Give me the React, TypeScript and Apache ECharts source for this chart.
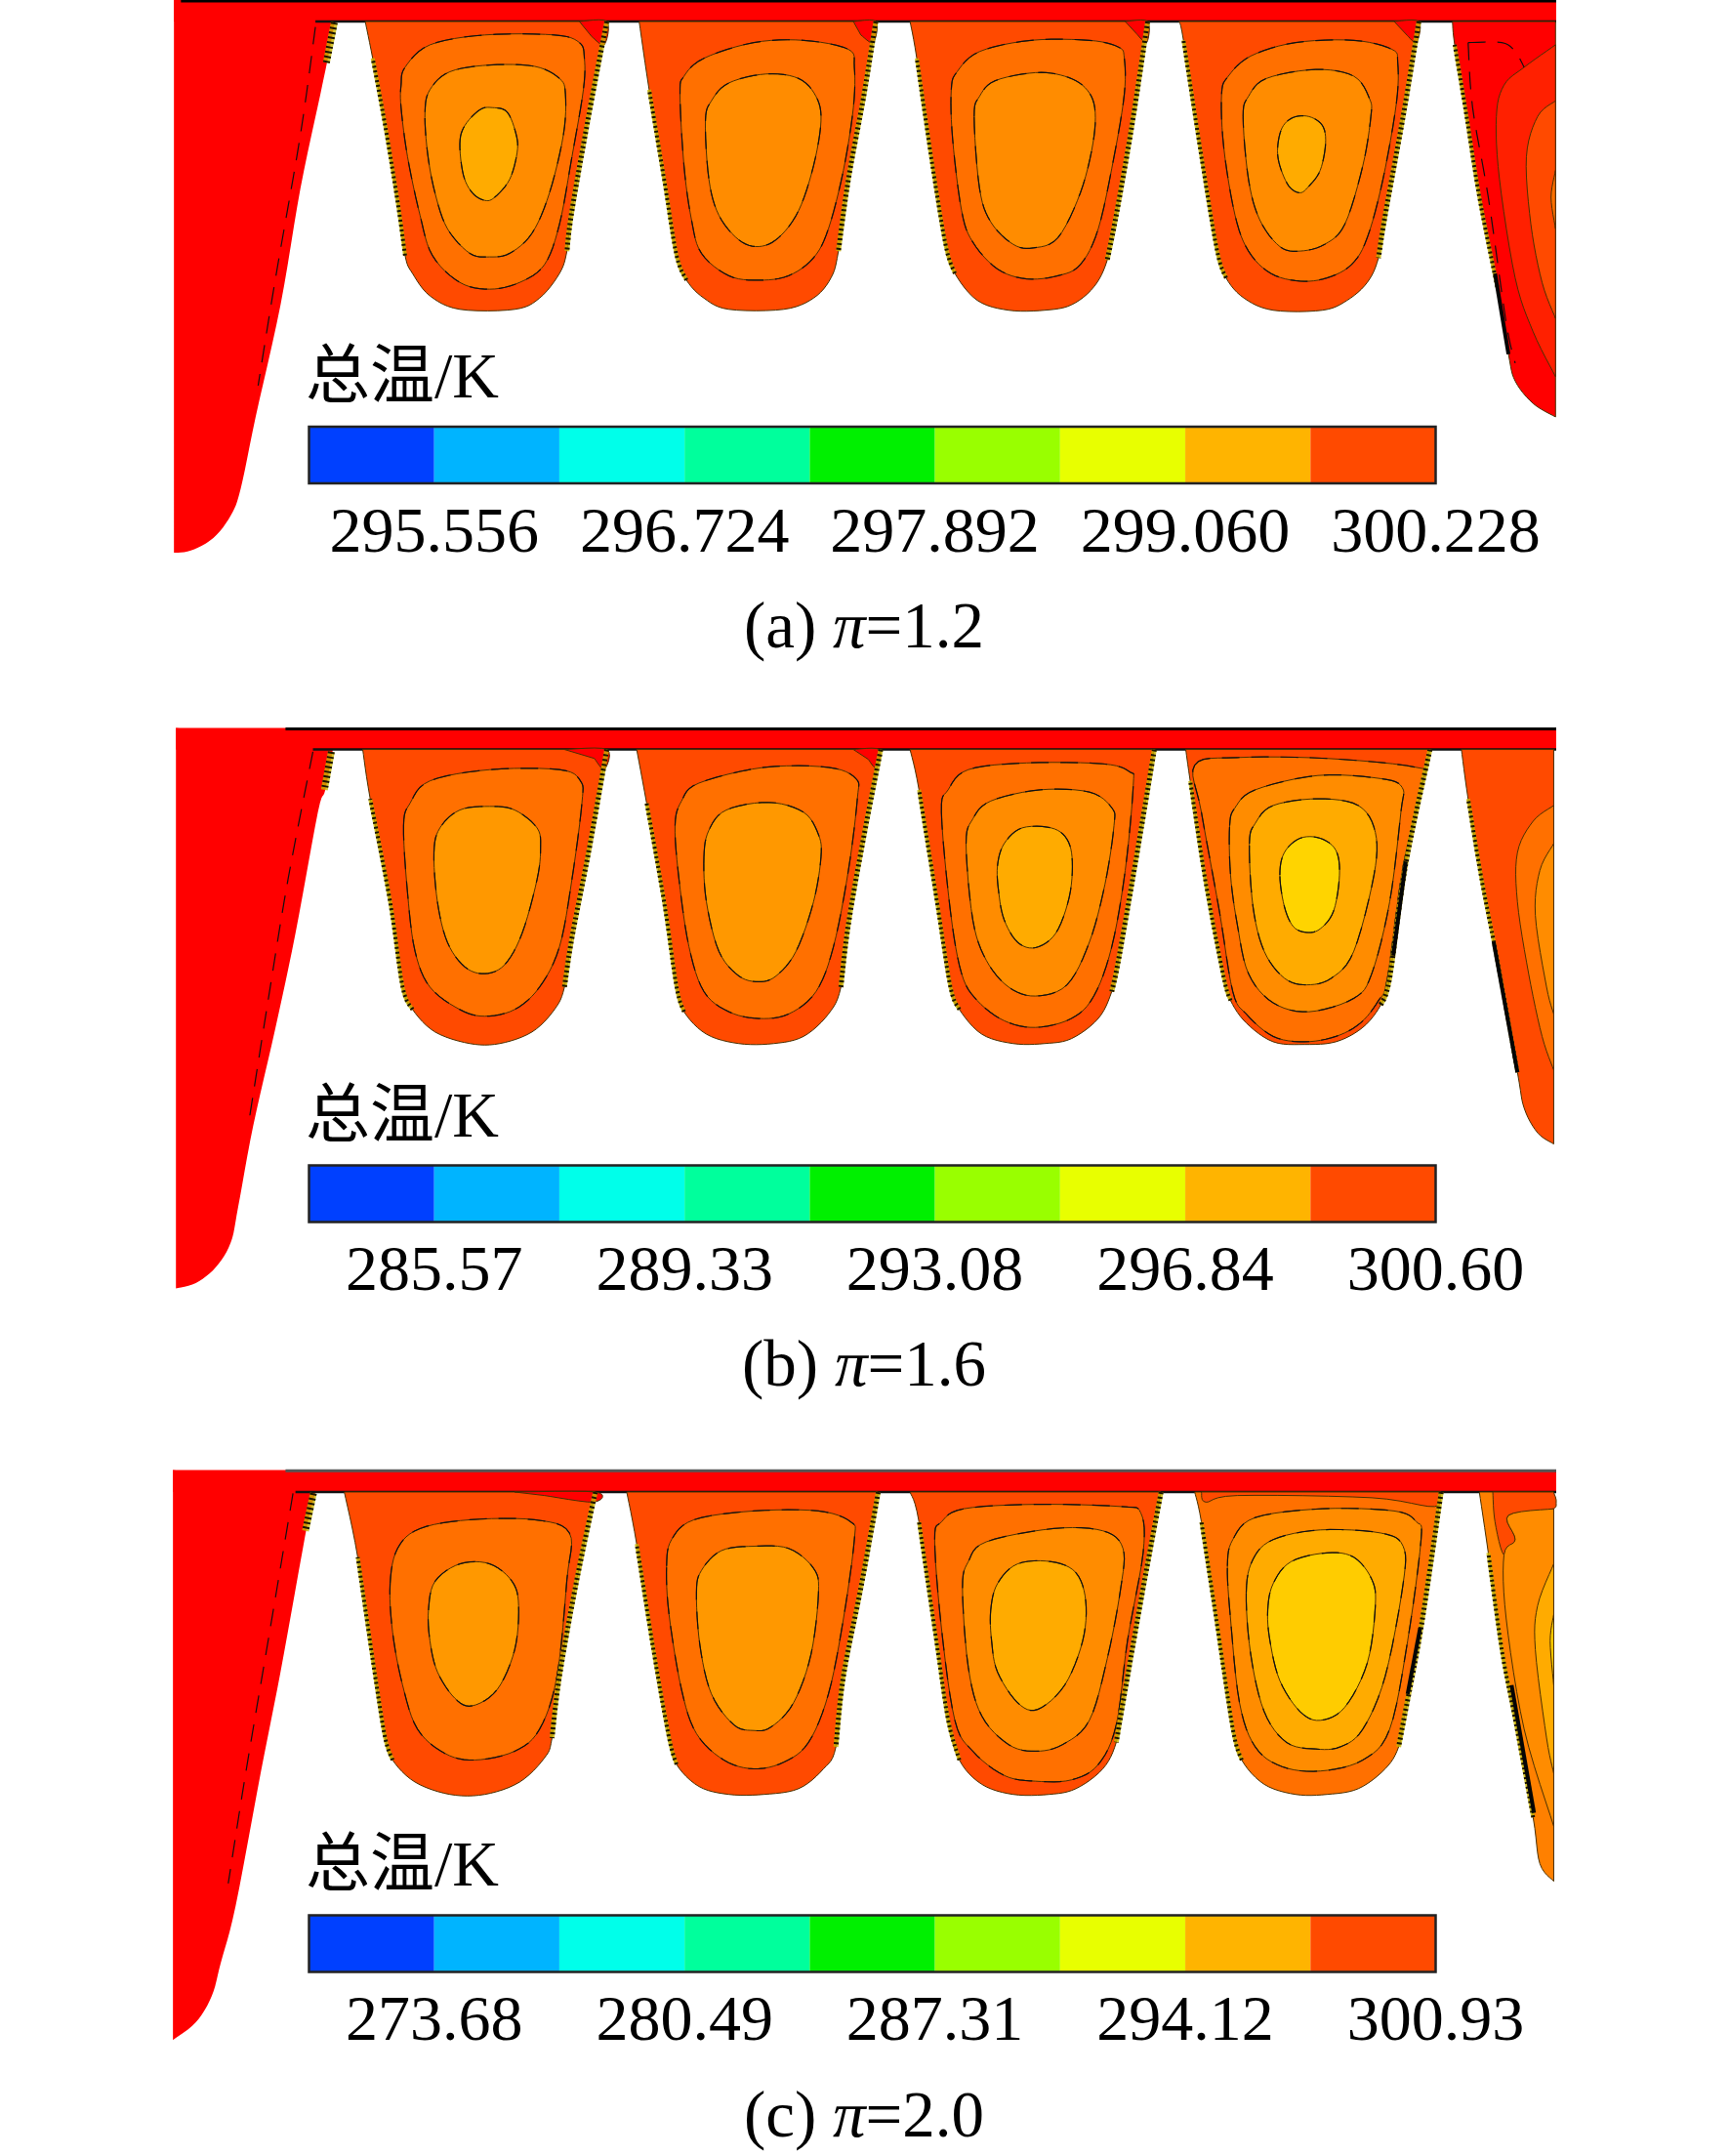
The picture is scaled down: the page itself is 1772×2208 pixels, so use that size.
import React, { useEffect, useRef } from "react";
import * as echarts from "echarts";

type P = number[];
type Fill = [string, P[], number?];
type Channel = { f: "L" | "R"; r: number; l: number; outer: string; pts: P[]; fills: Fill[]; lines?: P[][]; thick?: P[][] };

const RED = "#ff0000", C1 = "#ff4a00", C2 = "#ff7000", C3 = "#ff8c00", C3B = "#ff9800", C4 = "#ffab00", C5 = "#ffcc00", C6 = "#ffd400";

const colorbarColors = ["#0040ff", "#00b4ff", "#00ffea", "#00ff9c", "#00f000", "#99ff00", "#e8ff00", "#ffb400", "#ff4a00"];
const labelsA = ["295.556", "296.724", "297.892", "299.060", "300.228"];
const labelsB = ["285.57", "289.33", "293.08", "296.84", "300.60"];
const labelsC = ["273.68", "280.49", "287.31", "294.12", "300.93"];

// ---- contour outlines (panel a) ----
const wedgeA: P[] = [[340,45],[325,130],[310,210],[270,420],[230,680],[180,930],[150,1090],[130,1150],[95,1200],[50,1228],[16,1233]];
const wedgeLineA: P[] = [[300,60],[270,300],[220,620],[185,860]];
const wedgeHatchA: P[] = [[338,50],[322,140]];
const a1: Channel = { f:"L", r:4, l:4, outer:C1, pts:[[400,48],[885,48],[850,250],[815,470],[805,560],[790,610],[750,665],[700,690],[590,690],[530,660],[495,610],[480,570],[465,450],[440,280],[415,130]], fills:[
  [RED,[[830,48],[885,48],[880,100],[855,82]],1],
  [C2,[[472,190],[480,150],[530,100],[640,78],[780,78],[830,95],[840,130],[838,200],[815,350],[790,500],[760,590],[710,630],[650,645],[590,630],[535,570],[510,480],[485,350],[472,240]]],
  [C3,[[520,250],[530,200],[570,160],[650,145],[740,148],[790,175],[802,210],[798,300],[770,430],[735,520],[690,565],[650,573],[610,565],[565,510],[540,430],[525,340]]],
  [C4,[[590,320],[600,280],[630,245],[655,240],[685,250],[703,300],[705,340],[690,400],[660,440],[640,447],[615,430],[597,390]]],
]};
const a2: Channel = { f:"L", r:4, l:4, outer:C1, pts:[[950,48],[1425,48],[1400,220],[1370,400],[1350,560],[1335,620],[1300,665],[1240,690],[1130,690],[1080,665],[1045,625],[1025,570],[1000,400],[970,200]], fills:[
  [RED,[[1380,48],[1425,48],[1420,95],[1395,78]],1],
  [C2,[[1032,210],[1040,170],[1080,130],[1180,95],[1280,90],[1370,110],[1382,150],[1380,240],[1360,380],[1330,510],[1300,575],[1250,615],[1190,625],[1130,615],[1075,565],[1055,490],[1040,370]]],
  [C3,[[1083,270],[1095,225],[1130,185],[1205,165],[1270,175],[1305,215],[1315,270],[1300,370],[1270,470],[1230,530],[1190,550],[1150,535],[1110,480],[1090,400]]],
]};
const a3: Channel = { f:"R", r:4, l:4, outer:C1, pts:[[70,48],[600,48],[565,280],[530,480],[510,580],[480,640],[430,680],[370,692],[290,692],[220,670],[170,610],[150,550],[120,370],[85,130]], fills:[
  [RED,[[550,48],[600,48],[598,95],[575,75]],1],
  [C2,[[162,200],[175,160],[225,115],[340,90],[470,90],[535,105],[548,130],[548,210],[525,350],[490,510],[450,590],[400,615],[330,622],[265,600],[210,540],[185,470],[165,310]]],
  [C3,[[213,260],[225,215],[260,180],[350,162],[415,170],[460,195],[482,240],[478,320],[450,430],[400,530],[345,553],[300,545],[250,495],[225,420]]],
]};
const a4: Channel = { f:"R", r:4, l:4, outer:C1, pts:[[670,48],[1205,48],[1170,260],[1130,480],[1115,575],[1090,630],[1045,670],[990,692],[880,692],[815,665],[775,620],[755,560],[720,350],[680,90]], fills:[
  [RED,[[1150,48],[1205,48],[1200,95],[1180,80]],1],
  [C2,[[765,210],[780,170],[830,125],[930,95],[1060,90],[1145,110],[1158,140],[1155,230],[1125,400],[1090,530],[1055,590],[1000,620],[940,627],[875,610],[825,560],[795,480],[770,330]]],
  [C3,[[813,260],[825,215],[865,175],[975,155],[1060,170],[1095,220],[1098,260],[1080,370],[1040,500],[995,545],[940,560],[895,550],[850,490],[825,400]]],
  [C4,[[890,330],[900,285],[925,262],[960,260],[990,280],[997,320],[985,380],[960,415],[940,430],[915,415],[895,370]]],
]};
const a5: Channel = { f:"R", r:0, l:4, outer:RED, pts:[[1280,48],[1510,48],[1510,930],[1460,900],[1420,850],[1405,790],[1380,640],[1340,440],[1310,250],[1285,100]], fills:[
  ["#ff2000",[[1510,100],[1440,150],[1395,190],[1378,260],[1385,400],[1420,620],[1460,740],[1510,840]],1],
  [C1,[[1510,225],[1470,260],[1445,350],[1455,500],[1480,630],[1510,710]],1],
  [C2,[[1510,380],[1500,440],[1510,510]],1],
], lines:[[[1315,95],[1390,95],[1420,115],[1440,150]],[[1315,95],[1325,240],[1360,440],[1400,720],[1420,810]]], thick:[[[1375,610],[1405,790]]]};

// ---- panel b ----
const wedgeB: P[] = [[335,60],[320,150],[305,200],[260,470],[220,680],[175,900],[145,1080],[130,1160],[100,1215],[60,1250],[20,1262]];
const wedgeLineB: P[] = [[295,65],[245,350],[205,620],[165,900]];
const wedgeHatchB: P[] = [[332,65],[318,150]];
const b1: Channel = { f:"L", r:4, l:4, outer:C1, pts:[[395,60],[885,60],[850,280],[815,480],[800,590],[780,640],[735,690],[670,716],[610,716],[540,690],[495,640],[475,590],[450,400],[410,170]], fills:[
  [RED,[[800,60],[885,60],[880,105],[860,80]],1],
  [C2,[[477,230],[490,180],[530,130],[650,105],[790,105],[832,130],[835,180],[815,350],[790,500],[750,590],[700,640],[640,655],[590,640],[530,590],[500,510],[485,380]]],
  [C3B,[[538,290],[550,235],[590,195],[650,187],[700,195],[745,235],[752,280],[745,350],[715,470],[680,540],[640,560],[600,545],[565,490],[545,400]]],
]};
const b2: Channel = { f:"L", r:4, l:4, outer:C1, pts:[[945,60],[1435,60],[1400,260],[1370,450],[1355,590],[1330,650],[1280,700],[1220,716],[1150,716],[1085,695],[1040,645],[1025,590],[1000,400],[965,180]], fills:[
  [RED,[[1380,60],[1432,60],[1425,100],[1410,82]],1],
  [C2,[[1022,230],[1035,175],[1070,135],[1200,100],[1330,100],[1385,125],[1388,170],[1370,330],[1340,500],[1305,600],[1250,650],[1190,660],[1130,645],[1080,600],[1050,500],[1030,350]]],
  [C3B,[[1080,300],[1090,240],[1125,195],[1210,178],[1280,200],[1310,250],[1315,300],[1300,400],[1265,510],[1225,565],[1190,578],[1150,565],[1110,510],[1085,400]]],
]};
const b3: Channel = { f:"R", r:4, l:4, outer:C1, pts:[[70,60],[615,60],[575,300],[535,530],[520,600],[490,660],[430,705],[370,716],[300,716],[230,695],[180,640],[160,590],[130,400],[90,150]], fills:[
  [C2,[[140,200],[155,150],[200,105],[330,90],[500,92],[560,110],[568,140],[550,330],[520,500],[480,610],[430,660],[350,680],[280,665],[220,620],[185,560],[160,420]]],
  [C3,[[195,270],[210,215],[250,175],[360,150],[470,155],[520,190],[525,230],[505,360],[470,490],[420,585],[350,610],[290,590],[240,530],[210,440]]],
  [C4,[[265,320],[280,270],[320,235],[385,235],[420,260],[432,310],[425,390],[395,470],[350,502],[310,490],[280,440],[268,380]]],
]};
const b4: Channel = { f:"R", r:4, l:4, outer:C1, pts:[[685,60],[1230,60],[1175,320],[1140,570],[1120,630],[1080,680],[1020,712],[950,718],[880,712],[820,670],[785,620],[770,570],[730,360],[695,130]], fills:[
  [C2,[[705,95],[800,78],[1000,80],[1200,100],[1215,130],[1170,320],[1135,570],[1115,620],[1075,670],[1020,700],[950,712],[880,700],[820,650],[790,600],[760,420],[720,200]]],
  [C3,[[783,230],[795,190],[840,150],[980,118],[1120,125],[1168,145],[1165,200],[1140,400],[1100,560],[1060,615],[960,645],[880,625],[825,560],[800,450],[785,340]]],
  [C4,[[827,270],[840,225],[880,185],[980,170],[1070,185],[1108,245],[1105,340],[1060,510],[1010,570],[955,585],[905,570],[860,510],[835,410]]],
  [C6,[[895,340],[905,290],[940,258],[985,258],[1020,285],[1028,340],[1015,420],[985,460],[955,468],[925,455],[905,410]]],
], thick:[[[1176,310],[1148,520]]]};
const b5: Channel = { f:"R", r:0, l:4, outer:C1, pts:[[1300,60],[1506,60],[1506,940],[1470,915],[1440,860],[1425,780],[1380,530],[1345,350],[1315,170]], fills:[
  [C2,[[1506,185],[1460,220],[1425,290],[1425,400],[1450,560],[1480,700],[1506,775]],1],
  [C3,[[1506,270],[1475,330],[1465,430],[1490,590],[1506,650]],1],
], thick:[[[1372,490],[1425,780]]]};

// ---- panel c ----
const wedgeC: P[] = [[300,62],[285,130],[270,220],[230,470],[190,700],[140,1000],[110,1130],[92,1205],[60,1265],[14,1305]];
const wedgeLineC: P[] = [[255,65],[205,400],[160,700],[125,950]];
const wedgeHatchC: P[] = [[296,65],[280,150]];
const c1: Channel = { f:"L", r:4, l:4, outer:C1, pts:[[358,62],[862,62],[825,260],[790,480],[775,620],[760,665],[710,720],[640,748],[570,748],[500,720],[455,670],[440,620],[420,480],[385,210]], fills:[
  [RED,[[700,62],[862,62],[858,85],[760,70]],1],
  [C2,[[450,270],[465,190],[510,145],[610,125],[740,125],[810,155],[805,260],[785,480],[750,600],[700,650],[620,670],[560,655],[505,600],[475,500],[455,380]]],
  [C3B,[[527,330],[540,265],[590,225],[650,225],[695,265],[708,320],[700,420],[665,510],[615,547],[580,530],[545,470],[530,400]]],
]};
const c2: Channel = { f:"L", r:4, l:4, outer:C1, pts:[[925,62],[1430,62],[1395,280],[1360,480],[1345,640],[1320,690],[1270,735],[1200,748],[1130,748],[1070,730],[1025,680],[1010,620],[980,430],[945,180]], fills:[
  [C2,[[1005,230],[1015,170],[1060,125],[1180,105],[1310,105],[1375,130],[1382,170],[1360,350],[1330,520],[1290,630],[1240,675],[1180,690],[1120,670],[1065,610],[1035,510],[1010,340]]],
  [C3B,[[1065,290],[1075,240],[1115,195],[1180,185],[1250,190],[1300,235],[1310,290],[1295,430],[1260,540],[1215,595],[1180,603],[1140,590],[1095,520],[1072,410]]],
]};
const c3: Channel = { f:"R", r:4, l:4, outer:C1, pts:[[70,62],[630,62],[590,280],[545,540],[530,630],[500,690],[440,735],[380,748],[300,748],[230,725],[180,670],[155,580],[130,410],[90,130]], fills:[
  [C2,[[125,170],[140,130],[190,100],[350,90],[540,95],[585,110],[590,200],[555,400],[530,590],[490,680],[430,715],[350,718],[280,705],[210,650],[170,580],[140,370]]],
  [C3,[[187,280],[200,220],[240,175],[390,145],[500,150],[545,190],[540,280],[510,440],[470,580],[410,635],[350,650],[290,635],[230,570],[200,460]]],
  [C4,[[250,330],[265,270],[310,225],[385,220],[440,245],[462,310],[455,400],[415,500],[355,555],[310,540],[265,470],[252,400]]],
]};
const c4: Channel = { f:"R", r:4, l:4, outer:C2, pts:[[705,62],[1255,62],[1210,370],[1175,560],[1160,640],[1130,690],[1070,735],[1000,748],[930,748],[860,725],[810,670],[790,600],[750,330],[720,130]], fills:[
  [C1,[[1250,62],[1240,95],[1100,75],[800,70],[730,85],[720,62]],1],
  [C3,[[778,230],[790,170],[840,120],[990,100],[1150,105],[1200,130],[1210,170],[1180,400],[1140,600],[1080,670],[985,695],[900,685],[840,640],[805,540],[785,350]]],
  [C4,[[820,290],[835,215],[880,170],[985,148],[1120,155],[1170,185],[1170,270],[1130,480],[1080,600],[1030,640],[975,645],[910,630],[860,560],[830,430]]],
  [C5,[[868,330],[880,270],[920,220],[1000,200],[1060,210],[1100,260],[1108,320],[1090,450],[1040,550],[985,580],[940,560],[895,490],[873,400]]],
], thick:[[[1208,370],[1180,520]]]};
const c5: Channel = { f:"R", r:0, l:4, outer:"#ff8000", pts:[[1340,62],[1506,62],[1506,945],[1475,905],[1460,800],[1420,580],[1390,420],[1360,200]], fills:[
  [C1,[[1506,62],[1506,100],[1405,115],[1420,170],[1395,205],[1375,130],[1370,62]],1],
  [C3,[[1506,100],[1405,115],[1420,170],[1395,205],[1400,350],[1440,600],[1506,820]],1],
  [C4,[[1506,225],[1470,320],[1465,420],[1490,620],[1506,700]],1],
  [C5,[[1506,340],[1498,400],[1506,500]],1],
], thick:[[[1412,500],[1462,790]]]};

const PAGE_W = 1772, PAGE_H = 2208, CLIP_X = 1594;
const LINE = "#4a3000";

function curve(pts: P[], closed: boolean): P[] {
  const n = pts.length, out: P[] = [];
  if (n < 3) return pts;
  const at = (i: number) => (closed ? pts[(i + n) % n] : pts[Math.max(0, Math.min(n - 1, i))]);
  const segs = closed ? n : n - 1;
  for (let i = 0; i < segs; i++) {
    const [p0, p1, p2, p3] = [at(i - 1), at(i), at(i + 1), at(i + 2)];
    for (let k = 0; k < 6; k++) {
      const t = k / 6, t2 = t * t, t3 = t2 * t;
      out.push([0, 1].map((d) => 0.5 * (2 * p1[d] + (p2[d] - p0[d]) * t + (2 * p0[d] - 5 * p1[d] + 4 * p2[d] - p3[d]) * t2 + (3 * p1[d] - p0[d] - 3 * p2[d] + p3[d]) * t3)));
    }
  }
  if (!closed) out.push(pts[n - 1]);
  return out;
}

type Mark = { kind: "fill" | "flat" | "line" | "hatch" | "dash"; pts: P[]; color?: string; width?: number };
const marks: Mark[] = [];

function px(f: "L" | "R", y0: number, sy: number) {
  return (p: P): P => [Math.min(CLIP_X, f === "L" ? 170 + p[0] / 1.96 : 900 + p[0] / 2.178), y0 + p[1] / sy];
}

function addPanel(y0: number, sy: number, topY: number, bandY: number, lineStart: number, topColor: string, wedge: P[], wLine: P[], wHatch: P[], chans: Channel[]) {
  const L = px("L", y0, sy);
  const x0 = wedge[wedge.length - 1][0];
  marks.push({ kind: "flat", pts: [...curve(wedge, false), [x0, topY]].map(L), color: RED });
  marks.push({ kind: "flat", pts: [[x0, topY], [2900, topY], [2900, bandY], [x0, bandY]].map(L), color: RED });
  marks.push({ kind: "line", pts: [[lineStart, topY + 2], [2900, topY + 2]].map(L), color: topColor, width: 3 });
  marks.push({ kind: "line", pts: [[wedge[0][0] - 40, bandY], [2900, bandY]].map(L), color: "#111", width: 2.5 });
  marks.push({ kind: "dash", pts: curve(wLine, false).map(L) });
  marks.push({ kind: "hatch", pts: wHatch.map(L), width: 7 });
  chans.forEach((c) => {
    const T = px(c.f, y0, sy);
    const outerPts = c.r === 0
      ? [...curve([c.pts[2], ...c.pts.slice(3), c.pts[0]], false), c.pts[1]]
      : curve([...c.pts.slice(1), c.pts[0]], false);
    marks.push({ kind: "fill", pts: outerPts.map(T), color: c.outer });
    c.fills.forEach(([col, pts, open]) => {
      const shape = curve(pts, !open).map(T);
      marks.push({ kind: "fill", pts: shape, color: col });
      if (!open) marks.push({ kind: "dash", pts: [...shape, shape[0]] });
    });
    (c.lines || []).forEach((ln) => marks.push({ kind: "dash", pts: curve(ln, false).map(T) }));
    if (c.r > 0) marks.push({ kind: "hatch", pts: curve(c.pts.slice(1, 1 + c.r), false).map(T), width: 5 });
    marks.push({ kind: "hatch", pts: curve([...c.pts.slice(-c.l), c.pts[0]].slice(0, c.l), false).map(T), width: 4 });
    (c.thick || []).forEach((ln) => marks.push({ kind: "line", pts: ln.map(T), color: "#050505", width: 4 }));
  });
}

addPanel(0, 2.178, 0, 48, 30, "#000", wedgeA, wedgeLineA, wedgeHatchA, [a1, a2, a3, a4, a5]);
addPanel(740, 2.178, 12, 60, 240, "#000", wedgeB, wedgeLineB, wedgeHatchB, [b1, b2, b3, b4, b5]);
addPanel(1500, 2.215, 12, 62, 240, "#555", wedgeC, wedgeLineC, wedgeHatchC, [c1, c2, c3, c4, c5]);

const barLeft = 316.5, barWidth = 1154, barHeight = 58;
const barTops = [437, 1193.5, 1961.5];
const labelSets = [labelsA, labelsB, labelsC];
const titleY = [384, 1141, 1908];
const captionY = [640, 1396, 2165];
const captions = ["(a) {i|π}=1.2", "(b) {i|π}=1.6", "(c) {i|π}=2.0"];

export default function App() {
  const ref = useRef<HTMLDivElement>(null);
  useEffect(() => {
    const chart = echarts.init(ref.current!, null, { renderer: "svg" });
    const pageSeries: any = {
      type: "custom", xAxisIndex: 0, yAxisIndex: 0, clip: false, silent: true,
      data: marks.map((_, i) => [i, i]),
      renderItem: (params: any, api: any) => {
        const m = marks[params.dataIndex];
        const points = m.pts.map((p) => api.coord(p));
        if (m.kind === "flat") return { type: "polygon", shape: { points }, style: { fill: m.color, stroke: "none" } };
        if (m.kind === "fill") return { type: "polygon", shape: { points }, style: { fill: m.color, stroke: LINE, lineWidth: 1 } };
        if (m.kind === "line") return { type: "polyline", shape: { points }, style: { stroke: m.color, lineWidth: m.width, fill: "none" } };
        if (m.kind === "dash") return { type: "polyline", shape: { points }, style: { stroke: "#111", lineWidth: 1.2, lineDash: [18, 12], fill: "none" } };
        return {
          type: "group",
          children: [
            { type: "polyline", shape: { points }, style: { stroke: "#c8b400", lineWidth: m.width, fill: "none", opacity: 0.8 } },
            { type: "polyline", shape: { points }, style: { stroke: "#1a1200", lineWidth: m.width, lineDash: [2, 3], fill: "none" } },
          ],
        };
      },
    };
    const grids: any[] = [{ left: 0, top: 0, width: PAGE_W, height: PAGE_H, outerBoundsMode: "none" }];
    const xAxes: any[] = [{ type: "value", gridIndex: 0, min: 0, max: PAGE_W, show: false }];
    const yAxes: any[] = [{ type: "value", gridIndex: 0, min: 0, max: PAGE_H, inverse: true, show: false }];
    const series: any[] = [pageSeries];
    barTops.forEach((top, k) => {
      const g = k + 1;
      const labels = labelSets[k];
      grids.push({ left: barLeft, top, width: barWidth, height: barHeight, outerBoundsMode: "none" });
      xAxes.push({
        type: "value", gridIndex: g, min: 0, max: 9, interval: 1,
        axisLine: { show: false }, axisTick: { show: false }, splitLine: { show: false },
        axisLabel: {
          show: true, margin: 14, color: "#000", fontFamily: "Liberation Serif", fontSize: 66,
          showMinLabel: true, showMaxLabel: true, hideOverlap: false,
          formatter: (v: number) => (v % 2 === 1 ? labels[(v - 1) / 2] : ""),
        },
      });
      yAxes.push({ type: "value", gridIndex: g, min: 0, max: 1, show: false });
      series.push({
        type: "custom", xAxisIndex: g, yAxisIndex: g, silent: true, clip: false,
        data: colorbarColors.map((_, i) => [i, i + 1]),
        renderItem: (params: any, api: any) => {
          const a = api.coord([api.value(0), 1]);
          const b = api.coord([api.value(1), 0]);
          return { type: "rect", shape: { x: a[0], y: a[1], width: b[0] - a[0], height: b[1] - a[1] }, style: { fill: colorbarColors[params.dataIndex] } };
        },
      });
      series.push({
        type: "custom", xAxisIndex: g, yAxisIndex: g, silent: true, clip: false,
        data: [[0, 9]],
        renderItem: (_: any, api: any) => {
          const a = api.coord([0, 1]);
          const b = api.coord([9, 0]);
          return { type: "rect", shape: { x: a[0], y: a[1], width: b[0] - a[0], height: b[1] - a[1] }, style: { fill: "none", stroke: "#222", lineWidth: 2.5 } };
        },
      });
    });
    const serif = '"Liberation Serif", "Noto Sans CJK SC"';
    const texts: any[] = [];
    titleY.forEach((y) => texts.push({ type: "text", x: 313, y, style: { text: "总温/K", font: `66px ${serif}`, fill: "#000", verticalAlign: "middle" } }));
    captionY.forEach((y, i) => texts.push({
      type: "text", x: 885, y,
      style: {
        text: captions[i], fill: "#000", align: "center", verticalAlign: "middle",
        fontFamily: "Liberation Serif", fontSize: 67,
        rich: { i: { fontFamily: "Liberation Serif", fontSize: 67, fontStyle: "italic", fill: "#000" } },
      },
    }));
    chart.setOption({ animation: false, backgroundColor: "#fff", grid: grids, xAxis: xAxes, yAxis: yAxes, series, graphic: { elements: texts } });
    return () => chart.dispose();
  }, []);
  return <div ref={ref} style={{ position: "absolute", left: 0, top: 0, width: PAGE_W, height: PAGE_H }} />;
}
